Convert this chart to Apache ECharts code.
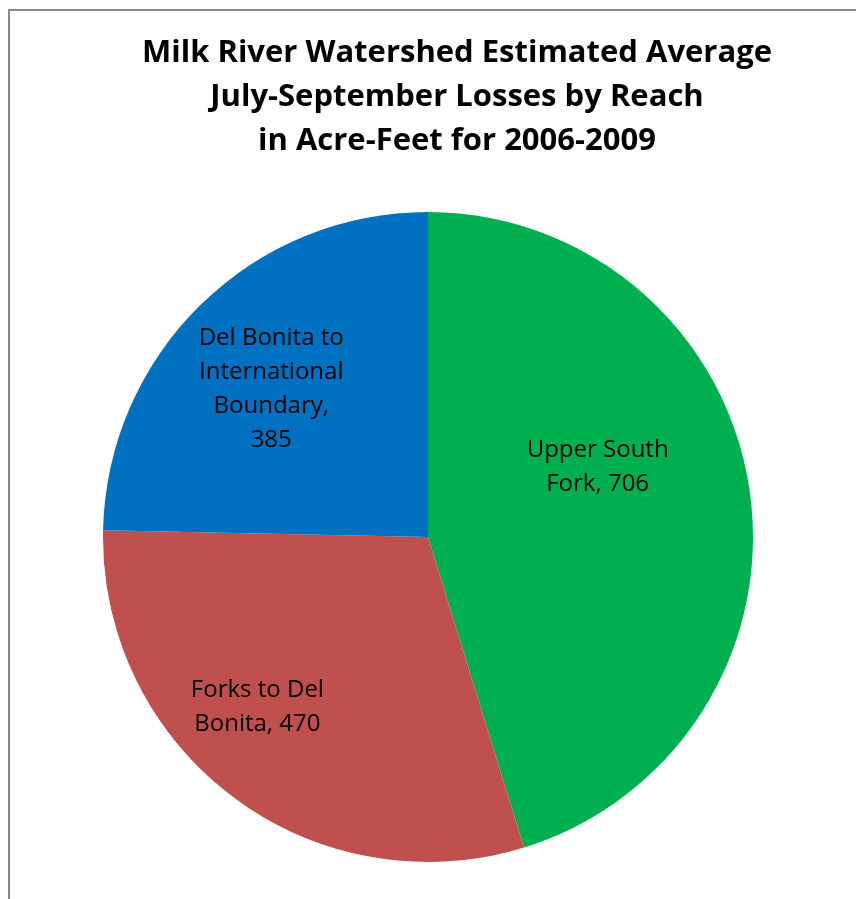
<!DOCTYPE html>
<html>
<head>
<meta charset="utf-8">
<script src="https://cdn.jsdelivr.net/npm/echarts@6/dist/echarts.min.js"></script>
<style>
  html, body { margin: 0; padding: 0; background: #fff; }
  #chart { width: 856px; height: 899px; }
</style>
</head>
<body>
<div id="chart"></div>
<script>
// Reaches of the Milk River watershed and their average July-September losses (acre-feet)
const reaches = ['Upper South Fork', 'Forks to Del Bonita', 'Del Bonita to International Boundary'];
const labelText = ['Upper South\nFork', 'Forks to Del\nBonita', 'Del Bonita to\nInternational\nBoundary,\n'];
const losses = [706, 470, 385];
const sliceColors = ['#00B050', '#C0504D', '#0070C0'];
const labelOffsets = [[6, -45], [-71, 38], [-41, -30]];

const chart = echarts.init(document.getElementById('chart'), null, { renderer: 'canvas' });

const data = reaches.map((name, i) => ({
  name: name,
  value: losses[i],
  itemStyle: { color: sliceColors[i] },
  label: {
    offset: labelOffsets[i],
    formatter: i === 2 ? labelText[i] + '{c}' : labelText[i] + ', {c}'
  }
}));

chart.setOption({
  animation: false,
  title: {
    text: 'Milk River Watershed Estimated Average\nJuly-September Losses by Reach\nin Acre-Feet for 2006-2009',
    left: 452,
    top: 26,
    textAlign: 'center',
    textStyle: {
      fontFamily: 'Open Sans',
      fontWeight: 'bold',
      fontSize: 31,
      lineHeight: 44,
      color: '#000'
    }
  },
  graphic: [{
    type: 'rect',
    shape: { x: 9, y: 10, width: 900, height: 900 },
    style: { fill: 'none', stroke: '#898989', lineWidth: 2 },
    silent: true
  }],
  series: [{
    type: 'pie',
    center: [428, 537],
    radius: [0, 325],
    startAngle: 90,
    clockwise: true,
    itemStyle: { borderWidth: 0 },
    label: {
      show: true,
      position: 'inside',
      fontFamily: 'Open Sans',
      fontSize: 24,
      lineHeight: 34,
      color: '#000',
      align: 'center'
    },
    labelLine: { show: false },
    emphasis: { disabled: true },
    data: data
  }]
});
</script>
</body>
</html>
